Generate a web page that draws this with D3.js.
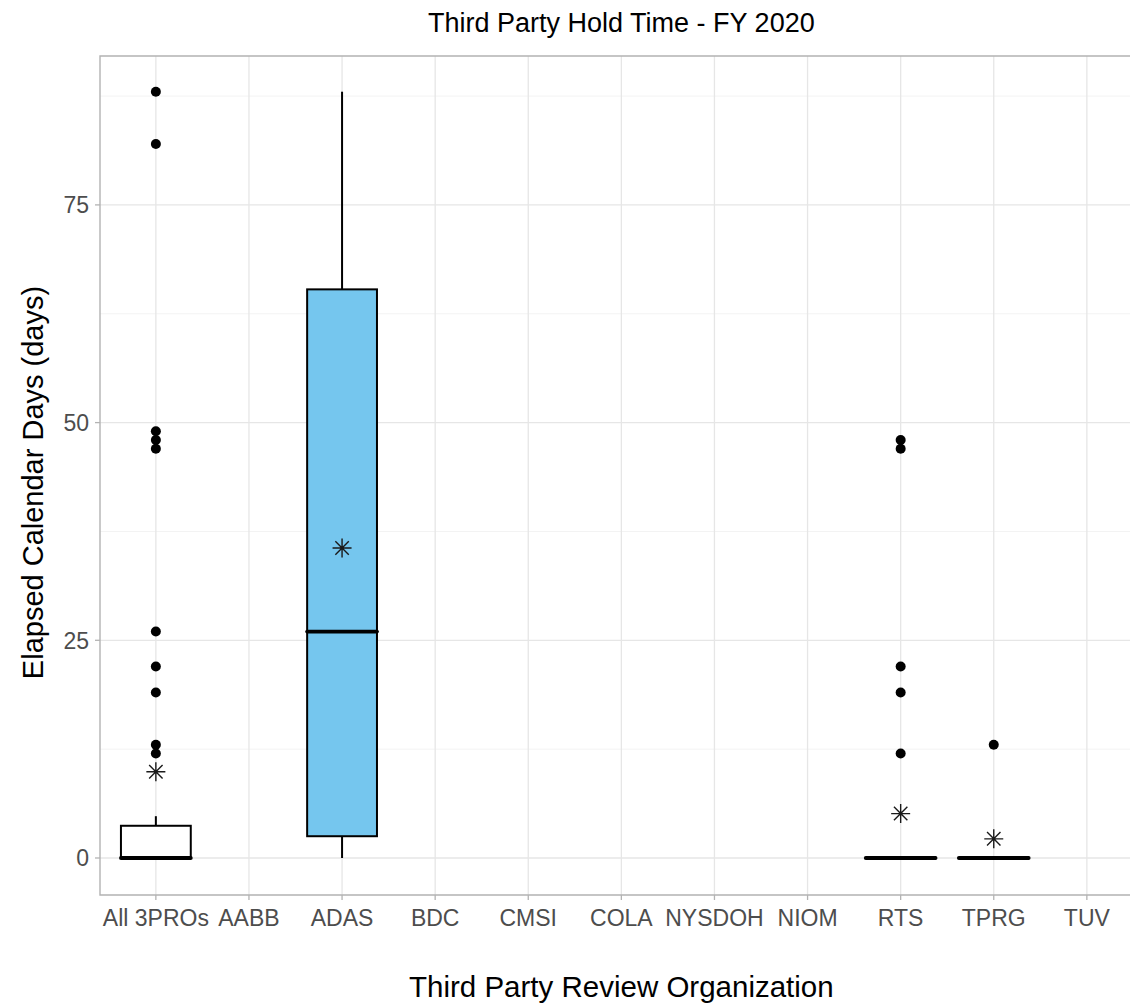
<!DOCTYPE html>
<html><head><meta charset="utf-8">
<script src="https://cdn.jsdelivr.net/npm/d3@7"></script>
<style>body{margin:0;background:#fff;} text{font-family:"Liberation Sans",Arial,sans-serif;}</style>
</head><body><svg id="c" width="1130" height="1005"></svg>
<script>
const categories = ["All 3PROs","AABB","ADAS","BDC","CMSI","COLA","NYSDOH","NIOM","RTS","TPRG","TUV"];
const boxCats   = ["All 3PROs","ADAS","RTS","TPRG"];
const q1        = [0, 2.5, 0, 0];
const median    = [0, 26, 0, 0];
const q3        = [3.7, 65.3, 0, 0];
const whiskLo   = [0, 0, 0, 0];
const whiskHi   = [4.8, 88, 0, 0];
const means     = [9.9, 35.6, 5.1, 2.2];
const fills     = ["#ffffff","#75C6EE","#ffffff","#ffffff"];
const outlierCats = ["All 3PROs","All 3PROs","All 3PROs","All 3PROs","All 3PROs","All 3PROs","All 3PROs","All 3PROs","All 3PROs","All 3PROs",
                     "RTS","RTS","RTS","RTS","RTS","TPRG"];
const outlierVals = [88,82,49,48,47,26,22,19,13,12, 48,47,22,19,12, 13];
const yTicks = [0,25,50,75];
const yMinor = [12.5,37.5,62.5,87.5];

const svg = d3.select("#c");
const L = 100, T = 56, B = 895;
const step = 93.1;
const R = L + step*11.2;
const x = d3.scalePoint().domain(categories).range([L+0.6*step, R-0.6*step]);
const y = d3.scaleLinear().domain([-4.25, 92.1]).range([B, T]);

const g = svg.append("g");
g.selectAll(".ymin").data(yMinor).join("line").attr("x1",L).attr("x2",R)
  .attr("y1",d=>y(d)).attr("y2",d=>y(d)).attr("stroke","#f3f3f3").attr("stroke-width",1);
g.selectAll(".ymaj").data(yTicks).join("line").attr("x1",L).attr("x2",R)
  .attr("y1",d=>y(d)).attr("y2",d=>y(d)).attr("stroke","#e6e6e6").attr("stroke-width",1.3);
g.selectAll(".xmaj").data(categories).join("line").attr("y1",T).attr("y2",B)
  .attr("x1",d=>x(d)).attr("x2",d=>x(d)).attr("stroke","#e6e6e6").attr("stroke-width",1.3);

const bw = 0.75*step;
boxCats.forEach((c,i)=>{
  const cx = x(c);
  g.append("line").attr("x1",cx).attr("x2",cx).attr("y1",y(q3[i])).attr("y2",y(whiskHi[i]))
    .attr("stroke","#000").attr("stroke-width",2);
  g.append("line").attr("x1",cx).attr("x2",cx).attr("y1",y(q1[i])).attr("y2",y(whiskLo[i]))
    .attr("stroke","#000").attr("stroke-width",2);
  g.append("rect").attr("x",cx-bw/2).attr("width",bw).attr("y",y(q3[i])).attr("height",y(q1[i])-y(q3[i]))
    .attr("fill",fills[i]).attr("stroke","#000").attr("stroke-width",2);
  g.append("line").attr("x1",cx-bw/2).attr("x2",cx+bw/2).attr("y1",y(median[i])).attr("y2",y(median[i]))
    .attr("stroke","#000").attr("stroke-width",3.8).attr("stroke-linecap","round");
  const my = y(means[i]), a = 9.5, d2 = a*0.707;
  const p = `M${cx-a},${my}L${cx+a},${my}M${cx},${my-a}L${cx},${my+a}M${cx-d2},${my-d2}L${cx+d2},${my+d2}M${cx-d2},${my+d2}L${cx+d2},${my-d2}`;
  g.append("path").attr("d",p).attr("stroke","#1a1a1a").attr("stroke-width",1.4).attr("fill","none");
});
g.selectAll(".out").data(outlierVals).join("circle")
  .attr("cx",(d,i)=>x(outlierCats[i])).attr("cy",d=>y(d)).attr("r",5).attr("fill","#000");

g.append("path").attr("d",`M${R},${T}H${L}V${B}H${R}`).attr("fill","none").attr("stroke","#b3b3b3").attr("stroke-width",1.4);

yTicks.forEach(t=>{
  g.append("line").attr("x1",L-5).attr("x2",L).attr("y1",y(t)).attr("y2",y(t)).attr("stroke","#b3b3b3").attr("stroke-width",1.3);
  g.append("text").attr("x",L-11).attr("y",y(t)).attr("dy","0.36em").attr("text-anchor","end")
    .attr("font-size",23).attr("fill","#4d4d4d").text(t);
});
categories.forEach(c=>{
  g.append("line").attr("x1",x(c)).attr("x2",x(c)).attr("y1",B).attr("y2",B+5).attr("stroke","#b3b3b3").attr("stroke-width",1.3);
  g.append("text").attr("x",x(c)).attr("y",B+31).attr("text-anchor","middle")
    .attr("font-size",23).attr("fill","#4d4d4d").text(c);
});

svg.append("text").attr("x",(L+R)/2).attr("y",32).attr("text-anchor","middle").attr("font-size",27).attr("fill","#000")
  .text("Third Party Hold Time - FY 2020");
svg.append("text").attr("x",(L+R)/2).attr("y",997).attr("text-anchor","middle").attr("font-size",29.5).attr("fill","#000")
  .text("Third Party Review Organization");
svg.append("text").attr("transform",`translate(43,${(T+B)/2 + 7}) rotate(-90)`).attr("text-anchor","middle").attr("font-size",29).attr("fill","#000")
  .text("Elapsed Calendar Days (days)");
</script></body></html>
